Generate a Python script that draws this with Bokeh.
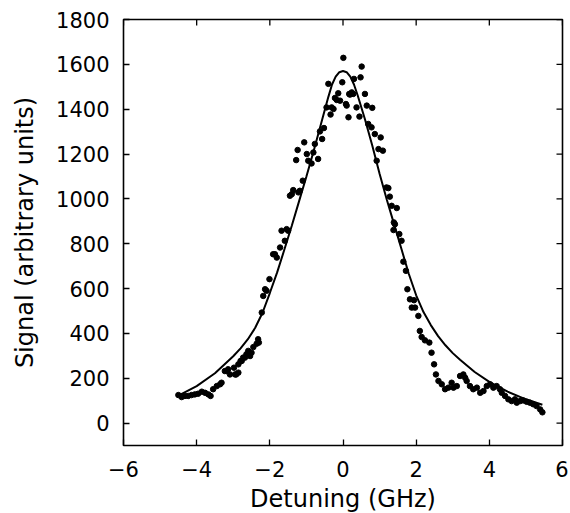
import math
from bokeh.plotting import figure
from bokeh.models import LinearAxis, Range1d, FixedTicker, ColumnDataSource
from bokeh.embed import file_html
from bokeh.resources import INLINE

# Measured signal (arbitrary units) vs detuning (GHz)
detuning = [-4.50, -4.41, -4.32, -4.23, -4.14, -4.05, -3.96, -3.86, -3.77, -3.68,
            -3.62, -3.55, -3.45, -3.36, -3.32, -3.23, -3.18, -3.14, -3.09, -2.98,
            -2.95, -2.92, -2.86, -2.86, -2.80, -2.77, -2.73, -2.68, -2.64, -2.59,
            -2.54, -2.50, -2.45, -2.36, -2.32, -2.30, -2.22, -2.18, -2.13, -2.09,
            -2.01, -1.91, -1.86, -1.81, -1.72, -1.68, -1.59, -1.54, -1.50, -1.45,
            -1.40, -1.36, -1.28, -1.24, -1.22, -1.18, -1.10, -1.06, -0.99, -0.95,
            -0.86, -0.81, -0.77, -0.68, -0.63, -0.57, -0.52, -0.45, -0.40, -0.34,
            -0.31, -0.26, -0.22, -0.17, -0.13, -0.08, -0.02, 0.01, 0.08, 0.10,
            0.15, 0.17, 0.19, 0.24, 0.28, 0.30, 0.37, 0.45, 0.48, 0.51,
            0.60, 0.65, 0.69, 0.78, 0.80, 0.87, 0.92, 0.97, 1.03, 1.09,
            1.19, 1.24, 1.28, 1.33, 1.38, 1.39, 1.42, 1.47, 1.54, 1.60,
            1.65, 1.72, 1.76, 1.83, 1.88, 1.94, 1.97, 2.06, 2.10, 2.15,
            2.24, 2.36, 2.42, 2.49, 2.54, 2.61, 2.70, 2.79, 2.88, 2.97,
            3.02, 3.11, 3.20, 3.29, 3.34, 3.38, 3.47, 3.56, 3.66, 3.75,
            3.84, 3.93, 4.02, 4.11, 4.20, 4.29, 4.34, 4.43, 4.52, 4.61,
            4.70, 4.75, 4.84, 4.93, 5.02, 5.11, 5.20, 5.29, 5.39, 5.45]
signal = [125, 116, 121, 121, 125, 128, 131, 140, 135, 128,
          121, 151, 165, 173, 180, 232, 232, 240, 217, 247,
          217, 217, 225, 262, 277, 277, 292, 292, 307, 322,
          299, 314, 339, 354, 374, 359, 493, 567, 597, 590,
          642, 753, 753, 738, 783, 858, 813, 865, 858, 1014,
          1021, 1039, 1173, 1218, 1029, 1036, 1081, 1252, 1200, 1170,
          1158, 1207, 1245, 1178, 1301, 1267, 1316, 1408, 1513, 1376,
          1408, 1401, 1450, 1441, 1471, 1438, 1520, 1629, 1423, 1416,
          1364, 1468, 1465, 1475, 1468, 1535, 1408, 1367, 1542, 1590,
          1468, 1416, 1334, 1319, 1406, 1289, 1170, 1222, 1274, 1215,
          1051, 1048, 1010, 969, 861, 895, 887, 959, 843, 813,
          720, 679, 597, 552, 515, 548, 515, 478, 411, 384,
          369, 359, 314, 262, 217, 188, 173, 151, 158, 180,
          158, 165, 210, 217, 202, 188, 165, 151, 158, 135,
          143, 165, 173, 158, 165, 151, 135, 121, 106, 98,
          106, 91, 98, 101, 95, 91, 84, 76, 61, 48]

# Fitted curve
fit_x = [-4.50, -4.00, -3.50, -3.00, -2.80, -2.60, -2.40, -2.20, -2.00, -1.80,
         -1.60, -1.40, -1.20, -1.00, -0.80, -0.60, -0.40, -0.30, -0.20, -0.10,
         0.00, 0.10, 0.20, 0.30, 0.40, 0.60, 0.80, 1.00, 1.20, 1.40,
         1.60, 1.80, 2.00, 2.20, 2.40, 2.60, 2.80, 3.00, 3.20, 3.60,
         4.00, 4.50, 5.00, 5.45]
fit_y = [122, 165, 222, 298, 333, 374, 425, 492, 580, 672,
         775, 880, 990, 1100, 1215, 1335, 1455, 1510, 1545, 1565,
         1570, 1565, 1545, 1510, 1462, 1355, 1238, 1112, 995, 885,
         775, 665, 570, 495, 437, 388, 347, 312, 282, 228,
         184, 140, 106, 82]

x_ticks = [-6, -4, -2, 0, 2, 4, 6]
y_ticks = [0, 200, 400, 600, 800, 1000, 1200, 1400, 1600, 1800]
x_min, x_max = -6, 6
y_min, y_max = -100, 1800

FONT = "DejaVu Sans"

p = figure(frame_width=439, frame_height=426, output_backend="svg",
           toolbar_location=None,
           x_range=Range1d(x_min, x_max), y_range=Range1d(y_min, y_max),
           min_border_left=123, min_border_right=6, min_border_top=19,
           min_border_bottom=20, x_axis_location=None, y_axis_location=None)
p.grid.visible = False
p.outline_line_color = "black"
p.outline_line_width = 1.6
p.background_fill_color = "white"
p.border_fill_color = "white"


def style_axis(ax, ticks, overrides=None):
    ax.ticker = FixedTicker(ticks=ticks)
    ax.major_tick_in = 6
    ax.major_tick_out = 0
    ax.major_tick_line_width = 1.3
    ax.minor_tick_line_color = None
    ax.axis_line_color = None
    ax.major_label_text_font = FONT
    ax.major_label_text_font_size = "21px"
    ax.major_label_text_color = "black"
    ax.axis_label_text_font = FONT
    ax.axis_label_text_font_size = "24px"
    ax.axis_label_text_font_style = "normal"
    ax.axis_label_text_color = "black"
    if overrides:
        ax.major_label_overrides = overrides


x_over = {t: (("\u2212" + str(-t)) if t < 0 else str(t)) for t in x_ticks}

xb = LinearAxis(axis_label="Detuning (GHz)")
style_axis(xb, x_ticks, x_over)
xb.major_label_standoff = 15
xb.axis_label_standoff = 5
p.add_layout(xb, "below")

yl = LinearAxis(axis_label="Signal (arbitrary units)")
style_axis(yl, y_ticks)
yl.major_label_standoff = 14
yl.axis_label_standoff = 14
p.add_layout(yl, "left")

# inward ticks on the top and right frame edges (clipped to the frame)
p.scatter(x_ticks, [y_max] * len(x_ticks), marker="dash", size=12,
          angle=math.pi / 2, line_color="black", line_width=1.3)
p.scatter([x_max] * len(y_ticks), y_ticks, marker="dash", size=12,
          line_color="black", line_width=1.3)

fit_src = ColumnDataSource(dict(x=fit_x, y=fit_y))
p.line("x", "y", source=fit_src, line_color="black", line_width=2)

pts = ColumnDataSource(dict(x=detuning, y=signal))
p.scatter("x", "y", source=pts, size=5.5, fill_color="black", line_color="black")

open("out.html", "w").write(file_html(p, INLINE))
